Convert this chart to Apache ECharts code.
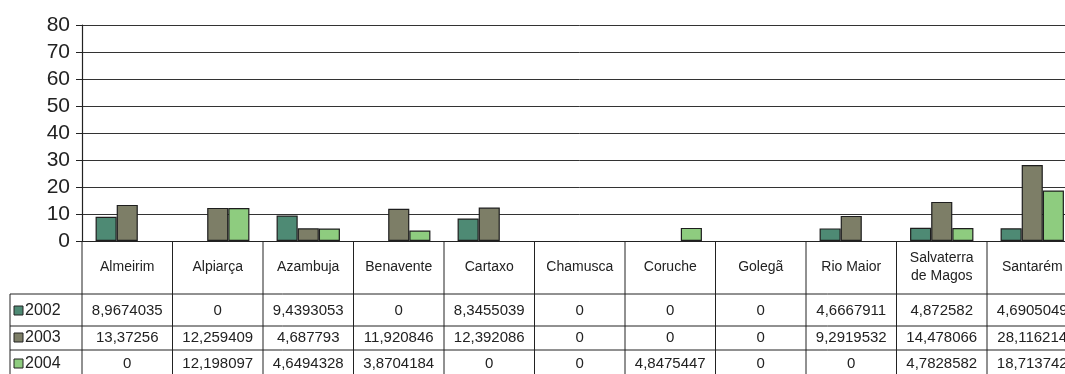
<!DOCTYPE html>
<html>
<head>
<meta charset="utf-8">
<script src="https://cdn.jsdelivr.net/npm/echarts@6/dist/echarts.min.js"></script>
<style>
html,body{margin:0;padding:0;background:#fff;overflow:hidden;width:1065px;height:374px;}
#chart{width:1100px;height:374px;}
</style>
</head>
<body>
<div id="chart"></div>
<script>
const categories = ['Almeirim','Alpiarça','Azambuja','Benavente','Cartaxo','Chamusca','Coruche','Golegã','Rio Maior','Salvaterra\nde Magos','Santarém'];
const seriesNames = ['2002','2003','2004'];
const values2002 = [8.9674035, 0, 9.4393053, 0, 8.3455039, 0, 0, 0, 4.6667911, 4.872582, 4.6905049];
const values2003 = [13.37256, 12.259409, 4.687793, 11.920846, 12.392086, 0, 0, 0, 9.2919532, 14.478066, 28.116214];
const values2004 = [0, 12.198097, 4.6494328, 3.8704184, 0, 0, 4.8475447, 0, 0, 4.7828582, 18.713742];
const yTicks = [0,10,20,30,40,50,60,70,80];

const colors = ['#4e8a74','#7d7e67','#8ecc7f'];
const allValues = [values2002, values2003, values2004];
const FONT = '"Liberation Sans", Arial, sans-serif';

const chart = echarts.init(document.getElementById('chart'), null, {renderer:'canvas'});
const gridLeft = 82, gridTop = 25, gridH = 216, catW = 90.5;
chart.setOption({
  animation:false,
  grid:{left:gridLeft, top:gridTop, height:gridH, width:catW*categories.length, containLabel:false},
  xAxis:{type:'category', data:categories,
    axisLine:{show:true, lineStyle:{color:'#222', width:1}},
    axisTick:{show:false}, axisLabel:{show:false}, splitLine:{show:false}},
  yAxis:{type:'value', min:yTicks[0], max:yTicks[yTicks.length-1], interval:10,
    axisLine:{show:true, lineStyle:{color:'#222', width:1.2}},
    axisTick:{show:true, length:6, lineStyle:{color:'#222'}},
    axisLabel:{color:'#222', fontSize:21, fontFamily:FONT, margin:12},
    splitLine:{show:true, lineStyle:{color:'#333', width:1}}},
  series: seriesNames.map((n,i)=>({
    name:n, type:'bar', data:allValues[i].map(v => v === 0 ? null : v), barGap:'0%', barCategoryGap:'30%',
    itemStyle:{color:colors[i], borderColor:'#1e1e1e', borderWidth:1.2},
    silent:true
  }))
});

// Build data table below the axis
const y0 = chart.convertToPixel({yAxisIndex:0}, 0);
const c0 = chart.convertToPixel({xAxisIndex:0}, 0);
const c1 = chart.convertToPixel({xAxisIndex:0}, 1);
const w = c1 - c0;
const leftX = c0 - w/2;
const tableLeft = 10;
const rowTops = [y0 + 53, y0 + 85, y0 + 109];
const rowCenters = [y0 + 70, y0 + 97, y0 + 123];
const bottom = 400;
const lineStyle = {stroke:'#222', lineWidth:1};
const g = [];
g.push({type:'line', shape:{x1:leftX, y1:y0, x2:leftX, y2:bottom}, style:lineStyle, silent:true});
for (let i=1;i<=categories.length;i++){
  const x = leftX + i*w;
  g.push({type:'line', shape:{x1:x, y1:y0, x2:x, y2:bottom}, style:lineStyle, silent:true});
}
g.push({type:'line', shape:{x1:tableLeft, y1:rowTops[0], x2:tableLeft, y2:bottom}, style:lineStyle, silent:true});
rowTops.forEach(t=>{
  g.push({type:'line', shape:{x1:tableLeft, y1:t, x2:1100, y2:t}, style:lineStyle, silent:true});
});
categories.forEach((c,i)=>{
  g.push({type:'text', x:leftX + (i+0.5)*w, y:(y0+rowTops[0])/2,
    style:{text:c, font:'14px '+FONT, fill:'#222', align:'center', verticalAlign:'middle', lineHeight:18}, silent:true});
});
seriesNames.forEach((n,r)=>{
  const cy = rowCenters[r];
  g.push({type:'rect', shape:{x:14, y:cy-5, width:9, height:9}, style:{fill:colors[r], stroke:'#222', lineWidth:1}, silent:true});
  g.push({type:'text', x:25, y:cy, style:{text:n, font:'16px '+FONT, fill:'#222', align:'left', verticalAlign:'middle'}, silent:true});
  allValues[r].forEach((v,i)=>{
    g.push({type:'text', x:leftX + (i+0.5)*w, y:cy,
      style:{text:String(v).replace('.', ','), font:'15px '+FONT, fill:'#222', align:'center', verticalAlign:'middle'}, silent:true});
  });
});
chart.setOption({graphic:g});
</script>
</body>
</html>
